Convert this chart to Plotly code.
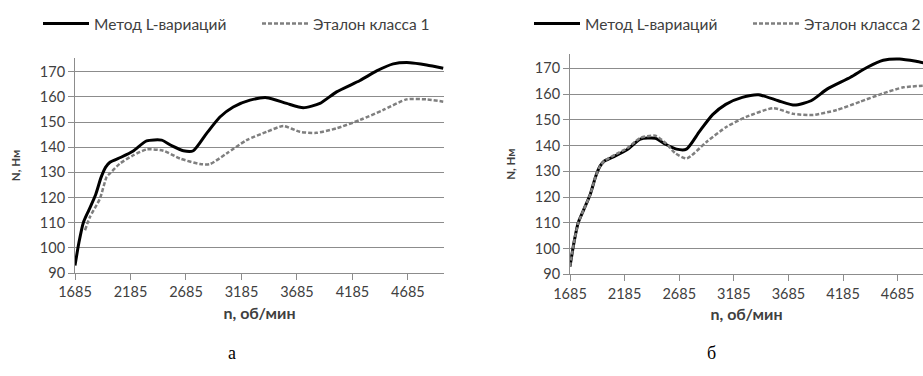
import plotly.graph_objects as go

W, H = 923, 376

# --- data ---
rpm_lvar = [1685, 1720, 1760, 1810, 1870, 1920, 1960, 2000, 2100, 2210, 2330, 2466, 2560,
            2661, 2751, 2871, 2991, 3111, 3262, 3412, 3592, 3742, 3892, 4042, 4253, 4403,
            4553, 4703, 4853, 5003]
torque_lvar = [93, 102, 110, 115, 121, 128, 132, 134, 136, 138.5, 142.5, 142.8, 140.5,
               138.6, 138.6, 145.5, 152, 156, 158.7, 159.7, 157.4, 155.7, 157.4, 162, 166.5,
               170.3, 173.1, 173.6, 172.7, 171.4]

rpm_ref1 = [1775, 1820, 1910, 1970, 2000, 2090, 2210, 2330, 2480, 2631, 2811, 2901, 3051,
            3231, 3412, 3562, 3712, 3862, 4042, 4253, 4463, 4673, 4853, 5003]
torque_ref1 = [107, 112.3, 119.6, 128.2, 129.6, 133.5, 136.8, 139.1, 138.6, 135.5, 133.3,
               133.3, 137.5, 142.8, 146.1, 148.4, 146.1, 145.7, 147.5, 150.8, 154.8, 159.0,
               159.0, 158.1]

rpm_ref2 = [1685, 1720, 1760, 1810, 1870, 1920, 1960, 2000, 2100, 2210, 2330, 2466, 2560,
            2650, 2754, 2937, 3120, 3303, 3547, 3730, 3913, 4127, 4341, 4554, 4737, 4950]
torque_ref2 = [93, 102, 110, 115, 121, 128, 132, 134, 136.5, 139, 143, 143.8, 141, 137,
               135, 141.5, 147.3, 151.2, 154.5, 152.3, 151.9, 153.8, 157.0, 160.3, 162.6, 163.3]

x_ticks = [1685, 2185, 2685, 3185, 3685, 4185, 4685]
y_ticks = [90, 100, 110, 120, 130, 140, 150, 160, 170]

name_lvar = "Метод L-вариаций"
name_ref1 = "Эталон класса 1"
name_ref2 = "Эталон класса 2"
x_title = "n, об/мин"
y_title = "N, Нм"
captions = ["а", "б"]

FONT = "Lato"
GRID = "#8c8c8c"
TXT = "#404040"


def px_x(p):
    return p / W


def px_y(p):
    return 1 - p / H


fig = go.Figure()

solid = dict(color="black", width=3, shape="spline", smoothing=0.6)
dash = dict(color="#7f7f7f", width=2.5, dash="4px,2px", shape="spline", smoothing=0.6)

fig.add_trace(go.Scatter(x=rpm_lvar, y=torque_lvar, mode="lines", line=solid, name=name_lvar,
                         xaxis="x", yaxis="y", legend="legend"))
fig.add_trace(go.Scatter(x=rpm_ref1, y=torque_ref1, mode="lines", line=dash, name=name_ref1,
                         xaxis="x", yaxis="y", legend="legend"))
fig.add_trace(go.Scatter(x=rpm_lvar, y=torque_lvar, mode="lines", line=solid, name=name_lvar,
                         xaxis="x2", yaxis="y2", legend="legend2"))
fig.add_trace(go.Scatter(x=rpm_ref2, y=torque_ref2, mode="lines", line=dash, name=name_ref2,
                         xaxis="x2", yaxis="y2", legend="legend2"))

xcommon = dict(tickvals=x_ticks, showgrid=False, showline=True, linecolor=GRID, linewidth=1,
               ticks="outside", ticklen=6, tickcolor=GRID, zeroline=False,
               tickfont=dict(family=FONT, size=14.5, color=TXT),
               title=dict(text="<b>" + x_title + "</b>", font=dict(family=FONT, size=16, color=TXT),
                          standoff=8))
ycommon = dict(tickvals=y_ticks, showgrid=True, gridcolor=GRID, gridwidth=1, showline=True,
               linecolor=GRID, linewidth=1, ticks="outside", ticklen=6, tickcolor=GRID,
               zeroline=False, tickfont=dict(family=FONT, size=14.5, color=TXT),
               title=dict(text="<b>" + y_title + "</b>", font=dict(family=FONT, size=11.5, color=TXT),
                          standoff=16))

leg_font = dict(family=FONT, size=15.5, color=TXT)
fig.update_layout(
    width=W, height=H, margin=dict(l=0, r=0, t=0, b=0, autoexpand=False),
    paper_bgcolor="white", plot_bgcolor="white",
    xaxis=dict(domain=[px_x(75), px_x(444)], range=[1685, 5010], anchor="y", **xcommon),
    yaxis=dict(domain=[px_y(273), px_y(58)], range=[90, 175.45], anchor="x", **ycommon),
    xaxis2=dict(domain=[px_x(570), 1.0], range=[1685, 4917], anchor="y2", **xcommon),
    yaxis2=dict(domain=[px_y(274.3), px_y(54)], range=[90, 175.55], anchor="x2", **ycommon),
    legend=dict(orientation="h", x=px_x(38), y=px_y(24), xanchor="left", yanchor="middle",
                font=leg_font, itemwidth=46, entrywidth=158, bgcolor="rgba(0,0,0,0)"),
    legend2=dict(orientation="h", x=px_x(529), y=px_y(24), xanchor="left", yanchor="middle",
                 font=leg_font, itemwidth=46, entrywidth=158, bgcolor="rgba(0,0,0,0)"),
    showlegend=True,
)

fig.add_annotation(text=captions[0], x=px_x(226), y=px_y(365), xref="paper", yref="paper",
                   showarrow=False, font=dict(family="Liberation Serif", size=18, color="black"))
fig.add_annotation(text=captions[1], x=px_x(718), y=px_y(365), xref="paper", yref="paper",
                   showarrow=False, font=dict(family="Liberation Serif", size=18, color="black"))

fig.write_html("out.html", config={"displayModeBar": False},
               post_script="document.body.style.margin='0';")
